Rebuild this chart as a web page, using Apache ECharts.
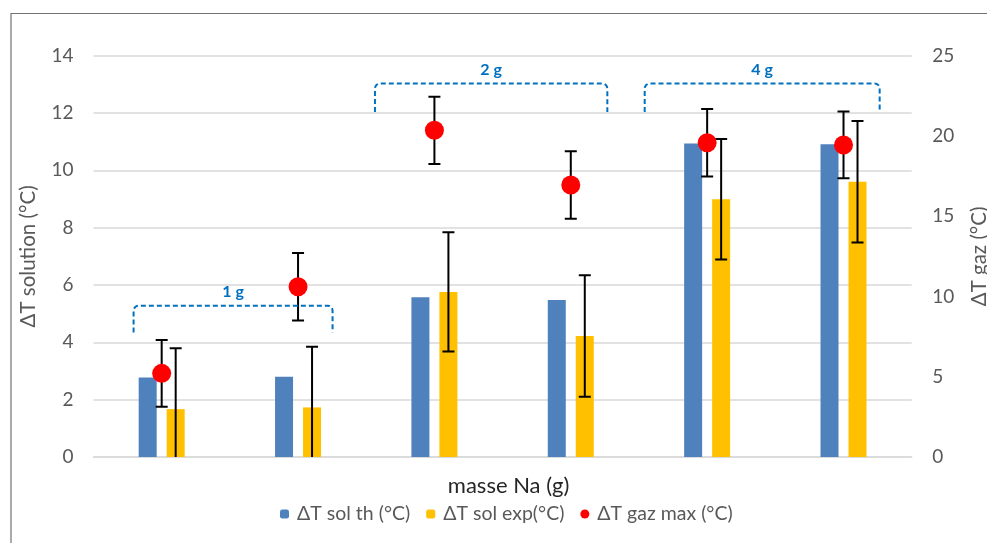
<!DOCTYPE html>
<html>
<head>
<meta charset="utf-8">
<title>ΔT en fonction de la masse de Na</title>
<script src="https://cdn.jsdelivr.net/npm/echarts@6/dist/echarts.min.js"></script>
<style>
  html, body { margin: 0; padding: 0; background: #ffffff; }
  #chart { width: 987px; height: 543px; }
</style>
</head>
<body>
<div id="chart"></div>
<script>
// Essais : deux essais par masse de sodium
const categories = ['1 g', '1 g', '2 g', '2 g', '4 g', '4 g'];

// ΔT solution théorique et expérimental (°C, axe de gauche)
const solTh = [2.77, 2.80, 5.57, 5.48, 10.94, 10.91];
const solExp = [1.67, 1.73, 5.76, 4.22, 8.99, 9.60];
const solExpErr = [2.12, 2.12, 2.08, 2.12, 2.10, 2.12];

// ΔT gaz maximal (°C, axe de droite)
const gazMax = [5.21, 10.61, 20.35, 16.95, 19.58, 19.44];
const gazMaxErr = [2.08, 2.10, 2.10, 2.10, 2.10, 2.08];

// Graduations des deux axes
const leftTicks = [0, 2, 4, 6, 8, 10, 12, 14];
const rightTicks = [0, 5, 10, 15, 20, 25];

// Regroupement des essais par masse (indices de catégories)
const massGroups = ['1 g', '2 g', '4 g'];
const groupFirst = [0, 2, 4];
const groupLast = [1, 3, 5];

// Placement des accolades : niveau (axe de gauche) et débords en fraction de bande
const bracketLayout = [
  { top: 5.28, foot: 4.34, from: -0.206, to: 0.253 },
  { top: 13.03, foot: 12.04, from: -0.436, to: 0.268 },
  { top: 13.03, foot: 12.04, from: -0.458, to: 0.265 }
];

const FONT = 'Lato, "Open Sans", sans-serif';
const GREY = '#595959';
const BAR_WIDTH = 18;
const BAR_OFFSET = 14; // décalage du centre de chaque barre par rapport au centre de catégorie

const chart = echarts.init(document.getElementById('chart'), null, { renderer: 'canvas' });

function errorBarRenderer(offset) {
  return function (params, api) {
    const idx = api.value(0);
    const hi = api.coord([idx, api.value(1)]);
    const lo = api.coord([idx, api.value(2)]);
    const x = hi[0] + offset;
    const cap = 6;
    const style = { stroke: '#000000', lineWidth: 2 };
    return {
      type: 'group',
      children: [
        { type: 'line', shape: { x1: x, y1: hi[1], x2: x, y2: lo[1] }, style: style },
        { type: 'line', shape: { x1: x - cap, y1: hi[1], x2: x + cap, y2: hi[1] }, style: style },
        { type: 'line', shape: { x1: x - cap, y1: lo[1], x2: x + cap, y2: lo[1] }, style: style }
      ]
    };
  };
}

function cornerPoints(cx, cy, r, a0, a1) {
  const pts = [];
  const steps = 4;
  for (let k = 0; k <= steps; k++) {
    const a = a0 + (a1 - a0) * k / steps;
    pts.push([cx + r * Math.cos(a), cy + r * Math.sin(a)]);
  }
  return pts;
}

function bracketRenderer(params, api) {
  const i = params.dataIndex;
  const lay = bracketLayout[i];
  const band = api.size([1, 0])[0];
  const x1 = api.coord([api.value(0), 0])[0] + lay.from * band;
  const x2 = api.coord([api.value(1), 0])[0] + lay.to * band;
  const yTop = api.coord([0, lay.top])[1];
  const yFoot = api.coord([0, lay.foot])[1];
  const r = 5;
  const points = [[x1, yFoot]]
    .concat(cornerPoints(x1 + r, yTop + r, r, Math.PI, 1.5 * Math.PI))
    .concat(cornerPoints(x2 - r, yTop + r, r, 1.5 * Math.PI, 2 * Math.PI))
    .concat([[x2, yFoot]]);
  return {
    type: 'group',
    children: [
      {
        type: 'polyline',
        shape: { points: points },
        style: { fill: null, stroke: '#0070C0', lineWidth: 2, lineDash: [5, 3] }
      },
      {
        type: 'text',
        x: (x1 + x2) / 2,
        y: yTop - 14,
        style: {
          text: massGroups[i],
          fill: '#0070C0',
          font: 'bold 16px ' + FONT,
          align: 'center',
          verticalAlign: 'middle'
        }
      }
    ]
  };
}

const option = {
  backgroundColor: '#ffffff',
  animation: false,
  textStyle: { fontFamily: FONT },
  graphic: [
    {
      type: 'rect',
      left: 8.5,
      top: 11,
      shape: { width: 1000, height: 600 },
      style: { fill: null, stroke: '#737373', lineWidth: 1.2 },
      silent: true
    }
  ],
  grid: {
    left: 93.5,
    right: 75.3,
    top: 55.7,
    bottom: 86,
    containLabel: false,
    outerBoundsMode: 'none'
  },
  legend: {
    data: ['ΔT sol th (°C)', 'ΔT sol exp(°C)', 'ΔT gaz max (°C)'],
    bottom: 14,
    left: 275,
    itemWidth: 9,
    itemHeight: 9,
    itemGap: 16,
    textStyle: { color: GREY, fontSize: 19.5, fontFamily: FONT, padding: [0, 0, 0, 3] }
  },
  xAxis: {
    type: 'category',
    data: categories,
    name: 'masse Na (g)',
    nameLocation: 'middle',
    nameGap: 18,
    nameTextStyle: { color: '#262626', fontSize: 22, fontFamily: FONT, padding: [0, 0, 0, 12] },
    axisLine: { show: true, lineStyle: { color: '#d9d9d9', width: 1.5 } },
    axisTick: { show: false },
    axisLabel: { show: false },
    splitLine: { show: false }
  },
  yAxis: [
    {
      type: 'value',
      min: leftTicks[0],
      max: leftTicks[leftTicks.length - 1],
      interval: leftTicks[1] - leftTicks[0],
      name: 'ΔT solution (°C)',
      nameLocation: 'middle',
      nameRotate: 90,
      nameGap: 55,
      nameTextStyle: { color: GREY, fontSize: 20.5, fontFamily: FONT },
      axisLine: { show: false },
      axisTick: { show: false },
      axisLabel: { color: GREY, fontSize: 19, margin: 20, fontFamily: FONT },
      splitLine: { show: true, lineStyle: { color: '#d9d9d9', width: 1.5 } }
    },
    {
      type: 'value',
      position: 'right',
      min: rightTicks[0],
      max: rightTicks[rightTicks.length - 1],
      interval: rightTicks[1] - rightTicks[0],
      name: 'ΔT gaz (°C)',
      nameLocation: 'middle',
      nameRotate: 90,
      nameGap: 57,
      nameTextStyle: { color: GREY, fontSize: 20.5, fontFamily: FONT },
      axisLine: { show: false },
      axisTick: { show: false },
      axisLabel: { color: GREY, fontSize: 19, margin: 20.5, fontFamily: FONT },
      splitLine: { show: false }
    }
  ],
  series: [
    {
      name: 'ΔT sol th (°C)',
      type: 'bar',
      yAxisIndex: 0,
      data: solTh,
      barWidth: BAR_WIDTH,
      barGap: ((2 * BAR_OFFSET - BAR_WIDTH) / BAR_WIDTH * 100) + '%',
      itemStyle: { color: '#4F81BD' },
      z: 2
    },
    {
      name: 'ΔT sol exp(°C)',
      type: 'bar',
      yAxisIndex: 0,
      data: solExp,
      barWidth: BAR_WIDTH,
      itemStyle: { color: '#FFC000' },
      z: 2
    },
    {
      name: 'erreur sol exp',
      type: 'custom',
      yAxisIndex: 0,
      clip: true,
      z: 3,
      renderItem: errorBarRenderer(BAR_OFFSET),
      encode: { x: 0, y: [1, 2] },
      data: solExp.map((v, i) => [i, v + solExpErr[i], v - solExpErr[i]])
    },
    {
      name: 'erreur gaz max',
      type: 'custom',
      yAxisIndex: 1,
      clip: true,
      z: 3,
      renderItem: errorBarRenderer(0),
      encode: { x: 0, y: [1, 2] },
      data: gazMax.map((v, i) => [i, v + gazMaxErr[i], v - gazMaxErr[i]])
    },
    {
      name: 'ΔT gaz max (°C)',
      type: 'scatter',
      yAxisIndex: 1,
      data: gazMax,
      symbol: 'circle',
      symbolSize: 19,
      itemStyle: { color: '#FF0000', opacity: 1 },
      z: 4
    },
    {
      name: 'accolades',
      type: 'custom',
      yAxisIndex: 0,
      clip: false,
      z: 5,
      renderItem: bracketRenderer,
      encode: { x: [0, 1] },
      data: massGroups.map((g, i) => [groupFirst[i], groupLast[i]])
    }
  ]
};

chart.setOption(option);
</script>
</body>
</html>
